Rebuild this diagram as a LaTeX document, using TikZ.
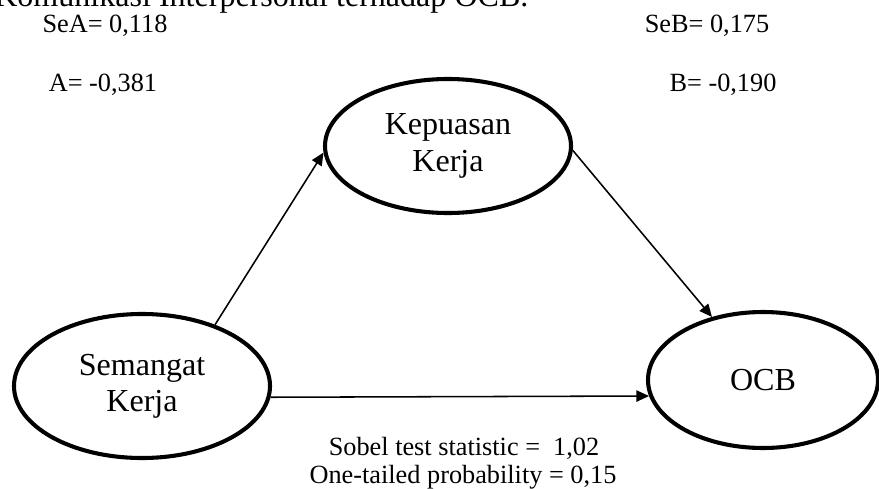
\documentclass[tikz,border=0pt]{standalone}
\usepackage{fontspec}
\setmainfont{Liberation Serif}
\usetikzlibrary{shapes.geometric,arrows.meta}

\begin{document}
\begin{tikzpicture}[
    var/.style={draw, ellipse, line width=2.9pt, inner sep=0pt, align=center,
      font=\fontsize{22.8}{25.8}\selectfont},
    stat/.style={anchor=base, font=\fontsize{18.7}{20}\selectfont},
    >={Triangle[length=9pt,width=8pt]}]
  \useasboundingbox (0,0) rectangle (21.975,12.2);

  % cut-off heading line
  \node[anchor=base west, inner sep=0pt, font=\fontsize{22.8}{25.8}\selectfont]
    (judul) at (-0.15,12.025) {Komunikasi Interpersonal terhadap OCB.};

  \node[var, minimum width=6.15cm, minimum height=3.35cm] (K) at (11.2,8.55) {Kepuasan\\Kerja};
  \node[var, minimum width=6.4cm, minimum height=3.6cm] (S) at (3.55,2.55) {Semangat\\Kerja};
  \node[var, minimum width=5.75cm, minimum height=3.4cm] (O) at (19.075,2.7) {OCB};

  \node[stat] (sea) at (2.625,11.375) {SeA= 0,118};
  \node[stat] (a) at (2.575,9.925) {A= -0,381};
  \node[stat] (seb) at (17.675,11.375) {SeB= 0,175};
  \node[stat] (b) at (18.075,9.925) {B= -0,190};
  \node[stat] (sobel) at (11.6,0.825) {Sobel test statistic = \ 1,02};
  \node[stat] (prob) at (11.575,0.125) {One-tailed probability = 0,15};

  \begin{scope}[->, line width=1.1pt]
    \draw (S.40) to (K.183);
    \draw (K.-2) to (O.129);
    \draw (S.-5) to (O.188);
  \end{scope}
\end{tikzpicture}
\end{document}
